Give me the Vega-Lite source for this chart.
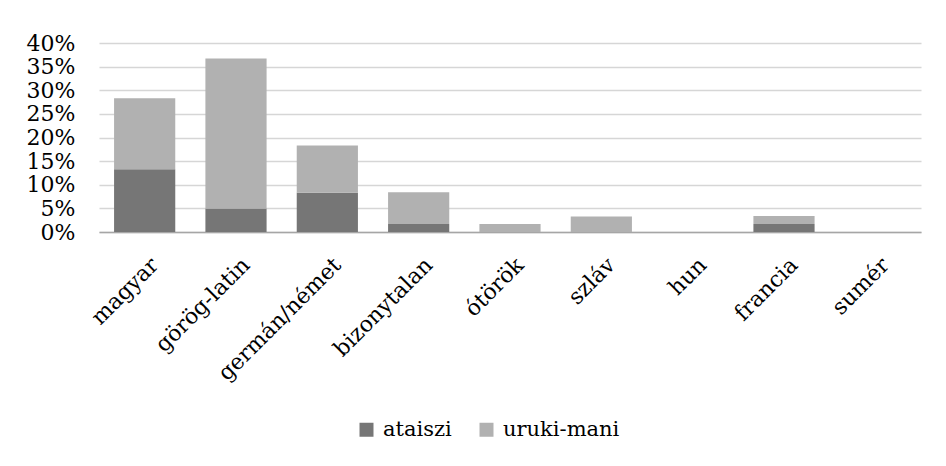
{
  "$schema": "https://vega.github.io/schema/vega-lite/v6.json",
  "autosize": {"type": "none"},
  "padding": {"left": 99, "top": 43, "right": 25, "bottom": 234},
  "width": 822,
  "height": 189,
  "background": "white",
  "config": {
    "font": "DejaVu Serif",
    "view": {"stroke": null}
  },
  "data": {
    "values": [
      {"nyelv": "magyar", "sorozat": "ataiszi", "arany": 0.133},
      {"nyelv": "magyar", "sorozat": "uruki-mani", "arany": 0.150},
      {"nyelv": "görög-latin", "sorozat": "ataiszi", "arany": 0.050},
      {"nyelv": "görög-latin", "sorozat": "uruki-mani", "arany": 0.317},
      {"nyelv": "germán/német", "sorozat": "ataiszi", "arany": 0.083},
      {"nyelv": "germán/német", "sorozat": "uruki-mani", "arany": 0.100},
      {"nyelv": "bizonytalan", "sorozat": "ataiszi", "arany": 0.017},
      {"nyelv": "bizonytalan", "sorozat": "uruki-mani", "arany": 0.067},
      {"nyelv": "ótörök", "sorozat": "ataiszi", "arany": 0.0},
      {"nyelv": "ótörök", "sorozat": "uruki-mani", "arany": 0.017},
      {"nyelv": "szláv", "sorozat": "ataiszi", "arany": 0.0},
      {"nyelv": "szláv", "sorozat": "uruki-mani", "arany": 0.033},
      {"nyelv": "hun", "sorozat": "ataiszi", "arany": 0.0},
      {"nyelv": "hun", "sorozat": "uruki-mani", "arany": 0.0},
      {"nyelv": "francia", "sorozat": "ataiszi", "arany": 0.017},
      {"nyelv": "francia", "sorozat": "uruki-mani", "arany": 0.017},
      {"nyelv": "sumér", "sorozat": "ataiszi", "arany": 0.0},
      {"nyelv": "sumér", "sorozat": "uruki-mani", "arany": 0.0}
    ]
  },
  "mark": {"type": "bar"},
  "encoding": {
    "x": {
      "field": "nyelv",
      "type": "nominal",
      "sort": ["magyar", "görög-latin", "germán/német", "bizonytalan", "ótörök", "szláv", "hun", "francia", "sumér"],
      "scale": {"paddingInner": 0.33, "paddingOuter": 0.165},
      "axis": {
        "title": null,
        "labelAngle": -45,
        "labelFont": "DejaVu Serif",
        "labelFontSize": 22,
        "labelColor": "black",
        "labelPadding": 22,
        "labelOffset": 3,
        "labelOverlap": false,
        "ticks": false,
        "domainColor": "#a6a6a6",
        "domainWidth": 1.5,
        "grid": false
      }
    },
    "y": {
      "field": "arany",
      "type": "quantitative",
      "stack": "zero",
      "scale": {"domain": [0, 0.4], "nice": false},
      "axis": {
        "title": null,
        "format": ".0%",
        "values": [0, 0.05, 0.1, 0.15, 0.2, 0.25, 0.3, 0.35, 0.4],
        "labelFont": "DejaVu Serif",
        "labelFontSize": 22,
        "labelColor": "black",
        "labelPadding": 24,
        "labelOverlap": false,
        "labelBound": false,
        "ticks": false,
        "domain": false,
        "gridColor": "#d6d6d6",
        "gridWidth": 1.5
      }
    },
    "color": {
      "field": "sorozat",
      "type": "nominal",
      "scale": {"domain": ["ataiszi", "uruki-mani"], "range": ["#767676", "#b1b1b1"]},
      "legend": {
        "title": null,
        "orient": "none",
        "direction": "horizontal",
        "legendX": 257,
        "legendY": 376,
        "symbolType": "square",
        "symbolSize": 196,
        "symbolStrokeWidth": 0,
        "labelFont": "DejaVu Serif",
        "labelFontSize": 21,
        "labelColor": "black",
        "labelOffset": 6,
        "columnPadding": 24
      }
    },
    "order": {"field": "sorozat", "sort": "ascending"}
  }
}
